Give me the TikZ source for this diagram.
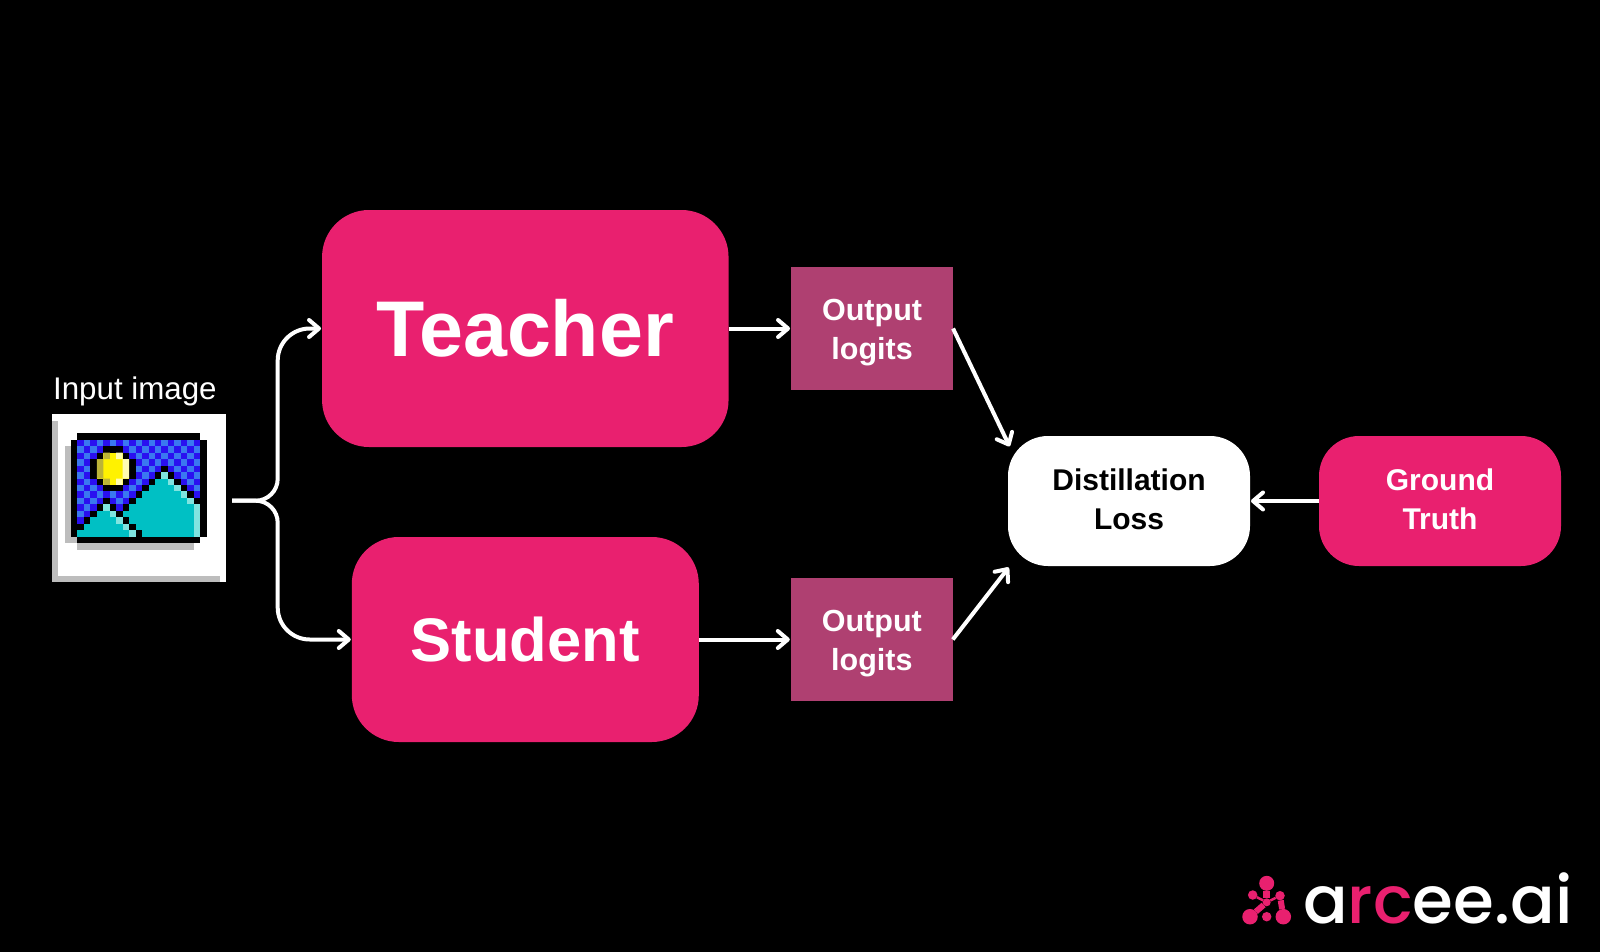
\documentclass[tikz,border=0pt]{standalone}
\usepackage{fontspec}
\setmainfont{Liberation Sans}
\newfontfamily\logofont{Poppins Medium}
\usetikzlibrary{positioning,arrows.meta}

\definecolor{arceepink}{HTML}{E9206F}
\definecolor{logitpink}{HTML}{AF4071}
\definecolor{skydark}{HTML}{2A10F0}
\definecolor{skylight}{HTML}{3A78F0}
\definecolor{hillteal}{HTML}{00C0C4}
\definecolor{hillpale}{HTML}{80E4E0}
\definecolor{iconshade}{HTML}{BDBDBD}

\tikzset{
  netbox/.style={fill=arceepink, text=white, inner sep=0, outer sep=0, align=center, font=\bfseries},
  logitbox/.style={fill=logitpink, text=white, inner sep=0, outer sep=0, align=center,
    minimum width=162pt, minimum height=122.5pt, font=\bfseries\fontsize{30.5}{39}\selectfont},
  lossbox/.style={inner sep=0, outer sep=0, align=center, rounded corners=40pt,
    minimum width=242pt, minimum height=130pt, font=\bfseries\fontsize{30}{39}\selectfont},
  flow/.style={draw=white, line width=4pt,
    -{Straight Barb[length=10pt,width=17pt,line width=4pt,round]}, shorten >=1pt},
  logodot/.style={circle, fill=arceepink, inner sep=0, outer sep=0},
  logolink/.style={draw=arceepink, line width=#1},
}

\begin{document}
\begin{tikzpicture}[x=1pt,y=1pt]
  \fill[black] (0,0) rectangle (1600,-952);
  \useasboundingbox (0,0) rectangle (1600,-952);

  \node [netbox, minimum width=406.5pt, minimum height=237pt, rounded corners=47pt,
    font=\bfseries\fontsize{79}{90}\selectfont] (teacher) at (525.3,-328.5) {Teacher};
  \node [netbox, below=90pt of teacher, minimum width=347pt, minimum height=205pt, rounded corners=47pt,
    font=\bfseries\fontsize{61.5}{72}\selectfont] (student) {Student};
  \node [logitbox, right=62.5pt of teacher] (logitsT) {\rule{0pt}{29pt}Output\\logits};
  \node [logitbox, right=92pt of student] (logitsS) {\rule{0pt}{29pt}Output\\logits};
  \node [lossbox, fill=white, text=black] (loss) at (1129,-501) {Distillation\\Loss\rule[-4pt]{0pt}{4pt}};
  \node [lossbox, fill=arceepink, text=white, right=69pt of loss] (truth) {Ground\\Truth\rule[-4pt]{0pt}{4pt}};

  % input image
  \node [fill=white, inner sep=0, outer sep=0, minimum width=174pt, minimum height=167.7pt] (input) at (138.7,-498) {};
  \node [above=4.5pt of input, xshift=-3.8pt, text=white, font=\fontsize{31.3}{36}\selectfont] (inputlabel) {Input image};
  \fill[iconshade] (51.7,-420.6) rectangle (58,-581.7);
  \fill[iconshade] (51.7,-576) rectangle (220,-581.7);
  \begin{scope}[shift={(71,-433.3)},x=6.46pt,y=-6.46pt]
    \fill[iconshade] (-1,2) rectangle (0,17);
    \fill[iconshade] (0,16) rectangle (1,17);
    \fill[iconshade] (1,17) rectangle (19,18);
    \fill[black] (1,0) rectangle (20,17);
    \fill[black] (0,1) rectangle (21,16);
    \fill[skydark] (1,1) rectangle (20,16);
    \foreach \r in {1,...,15}
      \foreach \c in {1,...,19} {
        \pgfmathparse{int(mod(\r+\c,2))}
        \ifnum\pgfmathresult=1
          \fill[skylight] (\c,\r) rectangle (\c+1,\r+1);
        \fi
      }
    % sun
    \foreach \r/\a/\b in {2/5/7,3/4/8,4/3/9,5/3/9,6/3/9,7/4/8,8/5/7}
      \fill[black] (\a,\r) rectangle (\b+1,\r+1);
    \foreach \r/\a/\b in {3/5/7,4/4/8,5/4/8,6/4/8,7/5/7}
      \fill[yellow] (\a,\r) rectangle (\b+1,\r+1);
    \fill[yellow!70!black] (4,4) rectangle (5,7) (5,3) rectangle (6,4) (5,7) rectangle (6,8);
    \fill[yellow!30] (8,4) rectangle (9,7) (7,3) rectangle (8,4) (7,7) rectangle (8,8);
    % hills
    \foreach \r/\a/\b in {5/14/14,6/13/15,7/12/16,8/11/17,9/10/18,10/9/19,11/8/19,12/7/19,13/8/19,14/9/19,15/10/19,
      10/5/5,11/4/6,12/3/7,13/2/8,14/1/9,15/1/10}
      \fill[black] (\a,\r) rectangle (\b+1,\r+1);
    \foreach \r/\a/\b in {6/14/14,7/13/15,8/12/16,9/11/17,10/10/18,11/9/19,12/8/19,13/9/19,14/10/19,15/11/19,
      11/5/5,12/4/6,13/3/7,14/2/8,15/1/9}
      \fill[hillteal] (\a,\r) rectangle (\b+1,\r+1);
    \foreach \r/\c in {6/14,7/15,8/16,9/17,10/18,11/19,12/19,13/19,14/19,15/19,11/5,12/6,13/7,14/8,15/9}
      \fill[hillpale] (\c,\r) rectangle (\c+1,\r+1);
  \end{scope}

  % connectors
  \coordinate (fork) at (232,-500.7);
  \coordinate (forkmid) at (277.7,-500.7);
  \coordinate (lossT) at (1010,-447.3);
  \coordinate (lossS) at (1009.3,-566.7);
  \draw [flow, rounded corners=22pt] (fork) -- (forkmid) [rounded corners=32pt] |- (teacher.west);
  \draw [flow, rounded corners=22pt] (fork) -- (forkmid) [rounded corners=32pt] |- (student.west);
  \draw [flow] (teacher) -- (logitsT);
  \draw [flow] (student) -- (logitsS);
  \draw [flow] (logitsT.east) -- (lossT);
  \draw [flow] (logitsS.east) -- (lossS);
  \draw [flow] (truth) -- (loss);

  % logo
  \foreach \n/\x/\y/\s in {ltop/1266.7/-883.3/15, lmid/1266.7/-902.3/8, lleft/1252.7/-895/9.5, lright/1280/-895.7/9.5,
    lbl/1250/-916.7/15.5, lbr/1283.3/-916.7/15.5, lbc/1266.7/-916.7/9.5}
    \node [logodot, minimum size=\s pt] (\n) at (\x,\y) {};
  \draw [logolink=6.5pt] (ltop) -- (lmid);
  \draw [logolink=6pt] (lbl) -- (lmid);
  \draw [logolink=6pt] (lbr) -- (lright);
  \draw [logolink=2.5pt] (lleft) -- (lmid) -- (lright);
  \node [anchor=base west, inner sep=0, text=white, font=\logofont\fontsize{66}{80}\selectfont] (logotext) at (1303,-923)
    {a{\color{arceepink}rc}ee.ai};
\end{tikzpicture}
\end{document}
